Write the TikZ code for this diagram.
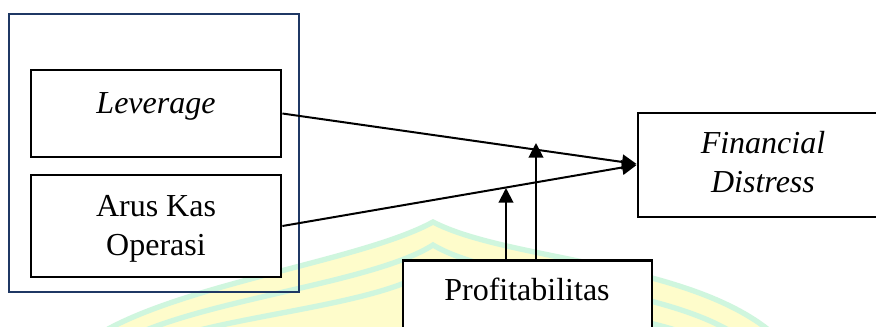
\documentclass[tikz,border=0pt]{standalone}
\usepackage{fontspec}
\setmainfont{Liberation Serif}
\usetikzlibrary{arrows.meta}
\definecolor{frame}{HTML}{1F3864}
\definecolor{wmyellow}{HTML}{FEFCCB}
\definecolor{wmmint}{HTML}{CFF6DE}
\tikzset{
  box/.style={draw=black, line width=2.1pt, fill=white, rectangle, inner sep=0pt},
  lbl/.style={font=\fontsize{24}{29}\selectfont, inner sep=0pt, anchor=base, align=center},
  arr/.style={line width=1.5pt, -{Triangle[length=11pt, width=11pt]}},
  wmline/.style={draw=wmmint, line width=4pt},
}
\begin{document}
\begin{tikzpicture}[x=0.75pt, y=-0.75pt]
\useasboundingbox (0,0) rectangle (876,326);
\clip (0,0) rectangle (876,326);
\fill[white] (0,0) rectangle (876,326);

% faint crest in the background
\fill[wmyellow] (90,340) .. controls (170,285) and (360,262) .. (433,222)
  .. controls (510,262) and (700,262) .. (780,340) -- cycle;
\draw[wmline] (90,340) .. controls (170,285) and (360,262) .. (433,222)
  .. controls (510,262) and (700,262) .. (780,340);
\draw[wmline] (115,345) .. controls (190,300) and (370,285) .. (433,245)
  .. controls (500,285) and (680,285) .. (750,345);
\draw[wmline] (140,350) .. controls (210,315) and (380,308) .. (433,268)
  .. controls (490,308) and (660,308) .. (720,350);

% outer frame around the independent variables
\node[draw=frame, line width=1.6pt, minimum width=217.5pt, minimum height=208.5pt, inner sep=0pt] (grp) at (154,153) {};

% boxes
\node[box, minimum width=187.5pt, minimum height=65.25pt] (lev) at (156,113.5) {};
\node[box, minimum width=187.5pt, minimum height=76.5pt] (ako) at (156,226) {};
\node[box, minimum width=187.5pt, minimum height=78pt] (fd) at (763,165) {};
\node[box, minimum width=186.75pt, minimum height=75pt, anchor=north] (prof) at (527.5,259) {};

% labels (base = baseline of the last line)
\node[lbl] (levt) at (156,113) {\itshape Leverage};
\node[lbl] (akot) at (156,255) {Arus Kas\\Operasi};
\node[lbl] (fdt) at (763,192) {\itshape Financial\\\itshape Distress};
\node[lbl] (proft) at (527,300) {Profitabilitas};

% moderating arrow ends
\coordinate (m1) at (506,188);
\coordinate (m2) at (536,143);

% connectors
\draw[arr] (lev.east) -- ([yshift=0.75pt]fd.west);
\draw[arr] (ako.east) -- (fd.west);
\draw[arr] (prof.north -| m1) -- (m1);
\draw[arr] (prof.north -| m2) -- (m2);
\end{tikzpicture}
\end{document}
